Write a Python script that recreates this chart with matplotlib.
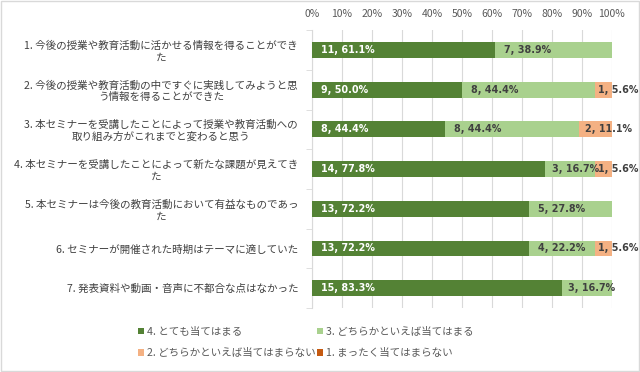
import numpy as np
import matplotlib
matplotlib.use("Agg")
import matplotlib.pyplot as plt
from matplotlib.patches import Rectangle

plt.rcParams['font.family'] = ['Noto Sans CJK JP', 'DejaVu Sans']

# データ（回答者数 n=18）
questions = [
    "1. 今後の授業や教育活動に活かせる情報を得ることができ\nた",
    "2. 今後の授業や教育活動の中ですぐに実践してみようと思\nう情報を得ることができた",
    "3. 本セミナーを受講したことによって授業や教育活動への\n取り組み方がこれまでと変わると思う",
    "4. 本セミナーを受講したことによって新たな課題が見えてき\nた",
    "5. 本セミナーは今後の教育活動において有益なものであっ\nた",
    "6. セミナーが開催された時期はテーマに適していた",
    "7. 発表資料や動画・音声に不都合な点はなかった",
]
series_names = ["4. とても当てはまる", "3. どちらかといえば当てはまる",
                "2. どちらかといえば当てはまらない", "1. まったく当てはまらない"]
cnt4 = [11, 9, 8, 14, 13, 13, 15]
cnt3 = [7, 8, 8, 3, 5, 4, 3]
cnt2 = [0, 1, 2, 1, 0, 1, 0]
cnt1 = [0, 0, 0, 0, 0, 0, 0]
xticks = [0, 10, 20, 30, 40, 50, 60, 70, 80, 90, 100]

colors = ["#548235", "#A9D18E", "#F4B183", "#C55A11"]
label_colors = ["white", "#404040", "#404040", "#404040"]

counts = np.array([cnt4, cnt3, cnt2, cnt1], dtype=float)
totals = counts.sum(axis=0)
pcts = counts / totals * 100

fig = plt.figure(figsize=(6.4, 3.72), dpi=100)
ax = fig.add_axes([0.4875, 0.172, 0.4685, 0.747])

y = np.arange(len(questions))
left = np.zeros(len(questions))
handles = []
for i in range(4):
    h = ax.barh(y, pcts[i], left=left, height=0.4, color=colors[i],
                label=series_names[i], zorder=3)
    handles.append(h)
    for j in range(len(questions)):
        if counts[i, j] > 0:
            p = pcts[i, j]
            off = 3.0 if p > 20 else (2.2 if p > 8 else 0.8)
            ax.text(left[j] + off, y[j], f"{int(counts[i, j])}, {p:.1f}%",
                    va="center", ha="left", fontsize=6.9, fontweight="bold",
                    color=label_colors[i], family="DejaVu Sans", zorder=4, clip_on=False)
    left += pcts[i]

ax.set_xlim(0, 100)
ax.set_ylim(len(questions) - 0.5, -0.5)
ax.set_xticks(xticks)
ax.set_xticklabels([f"{t}%" for t in xticks])
ax.xaxis.tick_top()
ax.tick_params(axis="x", length=0, labelsize=7.5, labelcolor="#595959", pad=8)
ax.grid(axis="x", color="#D9D9D9", linewidth=0.8, zorder=0)

ax.set_yticks(y)
ax.set_yticklabels(questions, fontsize=7.6, color="#404040", multialignment="center")
ax.set_yticks(np.arange(-0.5, len(questions) + 0.5, 1), minor=True)
ax.tick_params(axis="y", which="major", length=0, pad=10)
ax.tick_params(axis="y", which="minor", length=4, color="#D9D9D9")

for s in ["top", "right", "bottom"]:
    ax.spines[s].set_visible(False)
ax.spines["left"].set_color("#D9D9D9")

order = [0, 2, 1, 3]
fig.legend([handles[k] for k in order], [series_names[k] for k in order],
           ncol=2, loc="upper left", bbox_to_anchor=(0.2, 0.147), frameon=False,
           fontsize=7.6, handlelength=0.6, handleheight=0.6, handletextpad=0.3,
           columnspacing=0.1, labelspacing=1.05, labelcolor="#595959")

fig.patches.append(Rectangle((0.001, 0.002), 0.997, 0.995, transform=fig.transFigure,
                             fill=False, edgecolor="#D9D9D9", linewidth=1))

fig.savefig("out.png", dpi=100)
